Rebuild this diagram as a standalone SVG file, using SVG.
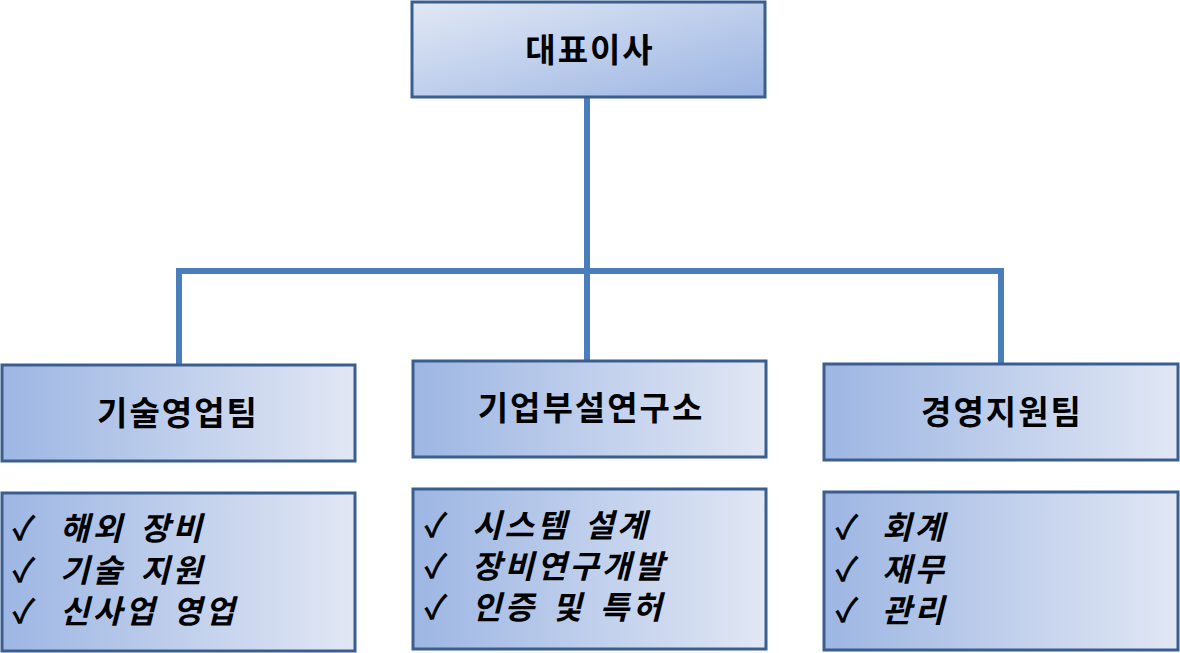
<svg xmlns="http://www.w3.org/2000/svg" width="1180" height="653" viewBox="0 0 1180 653">
<style>
.box{stroke:#3a5f8f;stroke-width:3}
.title{font-family:"Noto Sans CJK KR","Liberation Sans",sans-serif;font-weight:bold;font-size:33px;letter-spacing:2px;fill:#000;text-anchor:middle}
.item{font-family:"Noto Sans CJK KR","Liberation Sans",sans-serif;font-weight:bold;font-style:italic;font-size:32px;letter-spacing:3px;word-spacing:5px;fill:#000}
.chk{font-family:"Noto Sans CJK KR","DejaVu Sans",sans-serif;font-size:32px;fill:#000;stroke:#000;stroke-width:0.9}
.conn{stroke:#4a7ebb;stroke-width:6;fill:none}
</style>
<defs>
<linearGradient id="gTop" x1="0" y1="0" x2="1" y2="1">
<stop offset="0" stop-color="#e1e8f5"/>
<stop offset="1" stop-color="#9cb5e3"/>
</linearGradient>
<linearGradient id="gH" x1="0" y1="0" x2="1" y2="0">
<stop offset="0" stop-color="#9db6e3"/>
<stop offset="1" stop-color="#e1e7f4"/>
</linearGradient>
</defs>
<g id="connectors">
<line class="conn" x1="587" y1="97" x2="587" y2="361"/>
<line class="conn" x1="176" y1="271" x2="1003" y2="271"/>
<line class="conn" x1="179" y1="268" x2="179" y2="365"/>
<line class="conn" x1="1001" y1="268" x2="1001" y2="364"/>
</g>
<g id="ceo">
<rect class="box" x="412" y="2" width="353" height="95" fill="url(#gTop)"/>
<text class="title" x="590" y="62">대표이사</text>
</g>
<g id="tech-sales">
<rect class="box" x="2" y="365" width="353" height="96" fill="url(#gH)"/>
<text class="title" x="178" y="425">기술영업팀</text>
</g>
<g id="rnd">
<rect class="box" x="413" y="361" width="353" height="96" fill="url(#gH)"/>
<text class="title" x="591" y="420">기업부설연구소</text>
</g>
<g id="mgmt">
<rect class="box" x="824" y="364" width="354" height="96" fill="url(#gH)"/>
<text class="title" x="1002" y="424">경영지원팀</text>
</g>
<g id="tech-sales-list">
<rect class="box" x="2" y="493" width="353" height="158" fill="url(#gH)"/>
<text class="chk" x="13" y="540">✓</text>
<text class="item" x="60" y="540">해외 장비</text>
<text class="chk" x="13" y="582">✓</text>
<text class="item" x="60" y="582">기술 지원</text>
<text class="chk" x="13" y="623">✓</text>
<text class="item" x="60" y="623">신사업 영업</text>
</g>
<g id="rnd-list">
<rect class="box" x="413" y="489" width="353" height="160" fill="url(#gH)"/>
<text class="chk" x="425" y="537">✓</text>
<text class="item" x="472" y="537">시스템 설계</text>
<text class="chk" x="425" y="578">✓</text>
<text class="item" x="472" y="578">장비연구개발</text>
<text class="chk" x="425" y="619">✓</text>
<text class="item" x="472" y="619">인증 및 특허</text>
</g>
<g id="mgmt-list">
<rect class="box" x="824" y="492" width="354" height="158" fill="url(#gH)"/>
<text class="chk" x="836" y="539">✓</text>
<text class="item" x="882" y="539">회계</text>
<text class="chk" x="836" y="581">✓</text>
<text class="item" x="882" y="581">재무</text>
<text class="chk" x="836" y="622">✓</text>
<text class="item" x="882" y="622">관리</text>
</g>
</svg>
